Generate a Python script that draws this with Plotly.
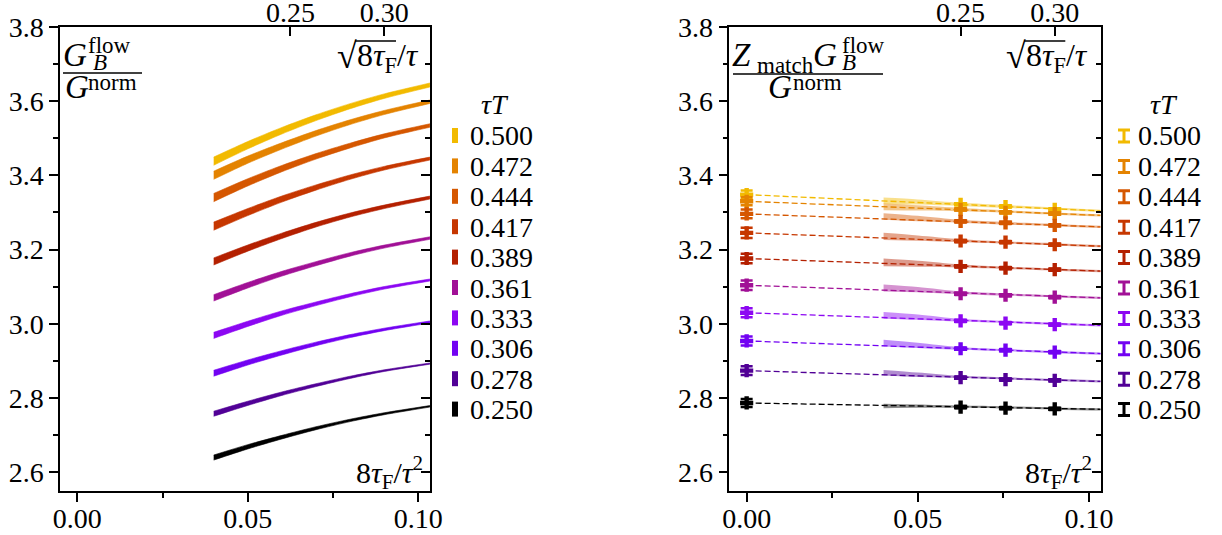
import plotly.graph_objects as go

W, H = 1222, 535
FONT = "Liberation Serif, DejaVu Serif, serif"

# ---------------- data ----------------
tau_T = ["0.500", "0.472", "0.444", "0.417", "0.389", "0.361", "0.333", "0.306", "0.278", "0.250"]
colors = ["#f2ba00", "#e48300", "#d55700", "#c63700", "#b42000",
          "#a11096", "#8c07f2", "#7202f2", "#510096", "#000000"]

# left panel: flowed correlator bands (x = 8 tau_F / tau^2)
flow_x = [0.04, 0.05, 0.06, 0.07, 0.08, 0.09, 0.1034]
flow_mid = [
    [3.438, 3.481, 3.520, 3.555, 3.586, 3.613, 3.643],
    [3.400, 3.442, 3.479, 3.513, 3.543, 3.569, 3.598],
    [3.340, 3.381, 3.418, 3.451, 3.480, 3.506, 3.534],
    [3.263, 3.301, 3.336, 3.367, 3.395, 3.419, 3.445],
    [3.168, 3.204, 3.237, 3.267, 3.293, 3.315, 3.340],
    [3.070, 3.104, 3.135, 3.162, 3.187, 3.208, 3.231],
    [2.969, 3.000, 3.029, 3.054, 3.077, 3.097, 3.118],
    [2.867, 2.896, 2.922, 2.946, 2.967, 2.985, 3.005],
    [2.758, 2.786, 2.812, 2.835, 2.856, 2.874, 2.893],
    [2.640, 2.669, 2.695, 2.719, 2.740, 2.758, 2.778],
]
flow_err = [
    [0.0110, 0.0099, 0.0088, 0.0078, 0.0069, 0.0061, 0.0054],
    [0.0110, 0.0097, 0.0085, 0.0074, 0.0064, 0.0055, 0.0047],
    [0.0110, 0.0097, 0.0085, 0.0074, 0.0064, 0.0055, 0.0047],
    [0.0110, 0.0095, 0.0082, 0.0070, 0.0059, 0.0049, 0.0040],
    [0.0095, 0.0083, 0.0072, 0.0062, 0.0054, 0.0047, 0.0040],
    [0.0085, 0.0074, 0.0064, 0.0055, 0.0047, 0.0040, 0.0034],
    [0.0082, 0.0070, 0.0059, 0.0049, 0.0041, 0.0034, 0.0027],
    [0.0080, 0.0068, 0.0058, 0.0048, 0.0040, 0.0033, 0.0027],
    [0.0068, 0.0057, 0.0047, 0.0038, 0.0030, 0.0022, 0.0016],
    [0.0068, 0.0058, 0.0048, 0.0040, 0.0032, 0.0026, 0.0020],
]

# right panel: matched correlator
extrap_y = [3.348, 3.330, 3.296, 3.245, 3.176, 3.104, 3.030, 2.954, 2.874, 2.787]
extrap_err = [0.011, 0.011, 0.012, 0.014, 0.013, 0.013, 0.012, 0.012, 0.012, 0.011]
fit_x = [0.0, 0.1034]
fit_end = [3.304, 3.292, 3.261, 3.209, 3.142, 3.070, 2.996, 2.920, 2.845, 2.770]

pt_x = [0.0625, 0.075625, 0.09]
pt_y = [
    [3.322, 3.316, 3.308],
    [3.308, 3.300, 3.297],
    [3.276, 3.272, 3.265],
    [3.223, 3.220, 3.213],
    [3.155, 3.150, 3.146],
    [3.081, 3.077, 3.072],
    [3.008, 3.002, 2.998],
    [2.933, 2.929, 2.924],
    [2.855, 2.850, 2.848],
    [2.776, 2.773, 2.771],
]
pt_err = [0.003, 0.003, 0.003]

band_x = [0.04, 0.05, 0.0625, 0.075625, 0.09, 0.1034]
band_lo = [
    [3.323, 3.321, 3.317, 3.312, 3.307, 3.301],
    [3.306, 3.305, 3.303, 3.299, 3.294, 3.289],
    [3.280, 3.276, 3.272, 3.267, 3.263, 3.258],
    [3.226, 3.224, 3.220, 3.216, 3.211, 3.206],
    [3.155, 3.154, 3.152, 3.148, 3.143, 3.139],
    [3.087, 3.085, 3.080, 3.076, 3.071, 3.067],
    [3.014, 3.011, 3.006, 3.002, 2.997, 2.993],
    [2.939, 2.935, 2.930, 2.926, 2.921, 2.917],
    [2.861, 2.857, 2.854, 2.850, 2.846, 2.842],
    [2.773, 2.774, 2.774, 2.772, 2.769, 2.767],
]
band_hi = [
    [3.340, 3.335, 3.326, 3.320, 3.313, 3.307],
    [3.324, 3.319, 3.312, 3.306, 3.300, 3.295],
    [3.298, 3.291, 3.280, 3.274, 3.269, 3.264],
    [3.245, 3.238, 3.228, 3.222, 3.217, 3.212],
    [3.176, 3.170, 3.160, 3.154, 3.149, 3.145],
    [3.106, 3.099, 3.087, 3.082, 3.077, 3.073],
    [3.032, 3.025, 3.013, 3.008, 3.003, 2.999],
    [2.957, 2.949, 2.937, 2.932, 2.927, 2.923],
    [2.876, 2.869, 2.860, 2.856, 2.852, 2.848],
    [2.785, 2.783, 2.780, 2.778, 2.775, 2.773],
]

x_ticks = [0.0, 0.05, 0.10]
x_minor = [0.025, 0.075]
top_ticks = [0.25, 0.30]          # sqrt(8 tau_F)/tau
y_ticks = [2.6, 2.8, 3.0, 3.2, 3.4, 3.6, 3.8]
x_range = [-0.00507, 0.10343]
y_range = [2.55, 3.80]


def rgba(hexc, a):
    h = hexc.lstrip("#")
    return "rgba(%d,%d,%d,%s)" % (int(h[0:2], 16), int(h[2:4], 16), int(h[4:6], 16), a)


fig = go.Figure()

# ---------------- left panel ----------------
for i, c in enumerate(colors):
    lo = [m - e for m, e in zip(flow_mid[i], flow_err[i])]
    hi = [m + e for m, e in zip(flow_mid[i], flow_err[i])]
    fig.add_trace(go.Scatter(x=flow_x, y=lo, mode="lines",
                             line=dict(color=c, width=0.6, shape="spline", smoothing=0.8),
                             xaxis="x", yaxis="y", showlegend=False, hoverinfo="skip"))
    fig.add_trace(go.Scatter(x=flow_x, y=hi, mode="lines",
                             line=dict(color=c, width=0.6, shape="spline", smoothing=0.8),
                             fill="tonexty", fillcolor=c, xaxis="x", yaxis="y", showlegend=False,
                             hoverinfo="skip"))

# ---------------- right panel ----------------
for i, c in enumerate(colors):
    fig.add_trace(go.Scatter(x=band_x, y=band_lo[i], mode="lines",
                             line=dict(width=0, shape="spline", smoothing=0.8),
                             xaxis="x2", yaxis="y2", showlegend=False, hoverinfo="skip"))
    fig.add_trace(go.Scatter(x=band_x, y=band_hi[i], mode="lines",
                             line=dict(width=0, shape="spline", smoothing=0.8),
                             fill="tonexty", fillcolor=rgba(c, 0.45), xaxis="x2", yaxis="y2",
                             showlegend=False, hoverinfo="skip"))
for i, c in enumerate(colors):
    fig.add_trace(go.Scatter(x=fit_x, y=[extrap_y[i], fit_end[i]], mode="lines",
                             line=dict(color=c, width=1.3, dash="6px,3px"),
                             xaxis="x2", yaxis="y2", showlegend=False, hoverinfo="skip"))
for i, c in enumerate(colors):
    fig.add_trace(go.Scatter(x=[0.0] + pt_x, y=[extrap_y[i]] + pt_y[i], mode="markers",
                             marker=dict(symbol="cross", size=11, color=c),
                             error_y=dict(type="data", array=[extrap_err[i]] + pt_err, color=c,
                                          thickness=2.5, width=6),
                             xaxis="x2", yaxis="y2", showlegend=False, hoverinfo="skip"))

# empty traces that switch on the secondary (top / right) tick axes
for xa, ya in (("x3", "y3"), ("x4", "y4")):
    fig.add_trace(go.Scatter(x=[None], y=[None], mode="markers", xaxis=xa, yaxis=ya,
                             showlegend=False, hoverinfo="skip"))

# ---------------- axes ----------------
XD_L = [60 / W, 430 / W]
XD_R = [729.3 / W, 1100.7 / W]
YD = [1 - 491 / H, 1 - 26.7 / H]
tickfont = dict(family=FONT, size=28, color="black")


def xaxis(domain, anchor):
    return dict(domain=domain, anchor=anchor, range=x_range, showgrid=False, zeroline=False,
                automargin=False,
                showline=True, linecolor="black", linewidth=1.5, mirror=True,
                ticks="outside", ticklen=9, tickwidth=1.5, tickcolor="black",
                tickvals=x_ticks, ticktext=["%.2f" % v for v in x_ticks], tickfont=tickfont,
                ticklabelstandoff=-7,
                minor=dict(tickvals=x_minor, ticks="outside", ticklen=5, tickwidth=1.5, tickcolor="black"))


def yaxis(anchor):
    return dict(domain=YD, anchor=anchor, range=y_range, showgrid=False, zeroline=False,
                automargin=False,
                showline=True, linecolor="black", linewidth=1.5, mirror=True,
                ticks="outside", ticklen=9, tickwidth=1.5, tickcolor="black",
                tickvals=y_ticks, ticktext=["%.1f" % v for v in y_ticks], tickfont=tickfont,
                minor=dict(dtick=0.1, tick0=2.6, ticks="outside", ticklen=5, tickwidth=1.5,
                           tickcolor="black"))


def topaxis(over, anchor):
    return dict(overlaying=over, anchor=anchor, side="top", range=x_range, showgrid=False,
                automargin=False,
                zeroline=False, showline=False, ticks="inside", ticklen=9, tickwidth=1.5,
                tickcolor="black", tickvals=[v * v for v in top_ticks],
                ticktext=["%.2f" % v for v in top_ticks], tickfont=tickfont,
                ticklabelstandoff=-2)


def rightaxis(over, anchor):
    return dict(overlaying=over, anchor=anchor, side="right", range=y_range, showgrid=False,
                automargin=False,
                zeroline=False, showline=False, ticks="inside", ticklen=9, tickwidth=1.5,
                tickcolor="black", tickvals=y_ticks, showticklabels=False,
                minor=dict(dtick=0.1, tick0=2.6, ticks="inside", ticklen=5, tickwidth=1.5,
                           tickcolor="black"))


annotations = []
shapes = []


def px(x):
    return x / W


def py(y):
    return 1 - y / H


def ann(text, x, y, size=28, xanchor="left", yanchor="middle"):
    annotations.append(dict(text=text, x=px(x), y=py(y), xref="paper", yref="paper",
                            xanchor=xanchor, yanchor=yanchor, showarrow=False, borderpad=0,
                            font=dict(family=FONT, size=size, color="black")))


def hline(x0, x1, y, width=1.5, color="black"):
    shapes.append(dict(type="line", xref="paper", yref="paper", x0=px(x0), x1=px(x1),
                       y0=py(y), y1=py(y), line=dict(color=color, width=width)))


# panel labels
for off in (0.0, 669.3):
    ann("√", 358 + off, 56, 36, xanchor="right")
    ann("8<i>τ</i><sub>F</sub>/<i>τ</i>", 420 + off, 58, 32, xanchor="right")
    hline(355 + off, 396 + off, 41, 1.5)
    ann("8<i>τ</i><sub>F</sub>/<i>τ</i><sup>2</sup>", 424 + off, 472, 30, xanchor="right")

# left fraction
ann("<i>G</i>", 62, 55, 33)
ann("flow", 87, 45, 23)
ann("<i>B</i>", 92, 63, 23)
hline(63, 142, 73)
ann("<i>G</i>", 64, 87, 33)
ann("norm", 87, 82, 23)

# right fraction
ann("<i>Z</i>", 731, 55, 33)
ann("match", 756, 65, 23)
ann("<i>G</i>", 812, 55, 33)
ann("flow", 841, 45, 23)
ann("<i>B</i>", 841, 63, 23)
hline(733, 883, 74)
ann("<i>G</i>", 767, 87, 33)
ann("norm", 792, 82, 23)

# legends
ann("<i>τT</i>", 495, 104, 28, xanchor="center")
ann("<i>τT</i>", 1164, 104, 28, xanchor="center")
for i, (lab, c) in enumerate(zip(tau_T, colors)):
    yc = 136 + 30.4 * i
    ann(lab, 469, yc, 28)
    shapes.append(dict(type="rect", xref="paper", yref="paper", x0=px(452), x1=px(458),
                       y0=py(yc - 8), y1=py(yc + 7), fillcolor=c, line=dict(width=0)))
    ann(lab, 1137, yc, 28)
    x0, x1, xc = 1118, 1130, 1124
    y0, y1 = yc - 6, yc + 6
    path = "M%f,%f L%f,%f M%f,%f L%f,%f M%f,%f L%f,%f" % (
        px(x0), py(y0), px(x1), py(y0), px(xc), py(y0), px(xc), py(y1), px(x0), py(y1), px(x1), py(y1))
    shapes.append(dict(type="path", xref="paper", yref="paper", path=path,
                       line=dict(color=c, width=3)))

fig.update_layout(
    width=W, height=H, margin=dict(l=0, r=0, t=0, b=0),
    paper_bgcolor="white", plot_bgcolor="white", showlegend=False,
    font=dict(family=FONT, color="black"),
    xaxis=xaxis(XD_L, "y"), yaxis=yaxis("x"),
    xaxis2=xaxis(XD_R, "y2"), yaxis2=yaxis("x2"),
    xaxis3=topaxis("x", "y3"), xaxis4=topaxis("x2", "y4"),
    yaxis3=rightaxis("y", "x3"), yaxis4=rightaxis("y2", "x4"),
    annotations=annotations, shapes=shapes,
)

fig.write_html("out.html")
